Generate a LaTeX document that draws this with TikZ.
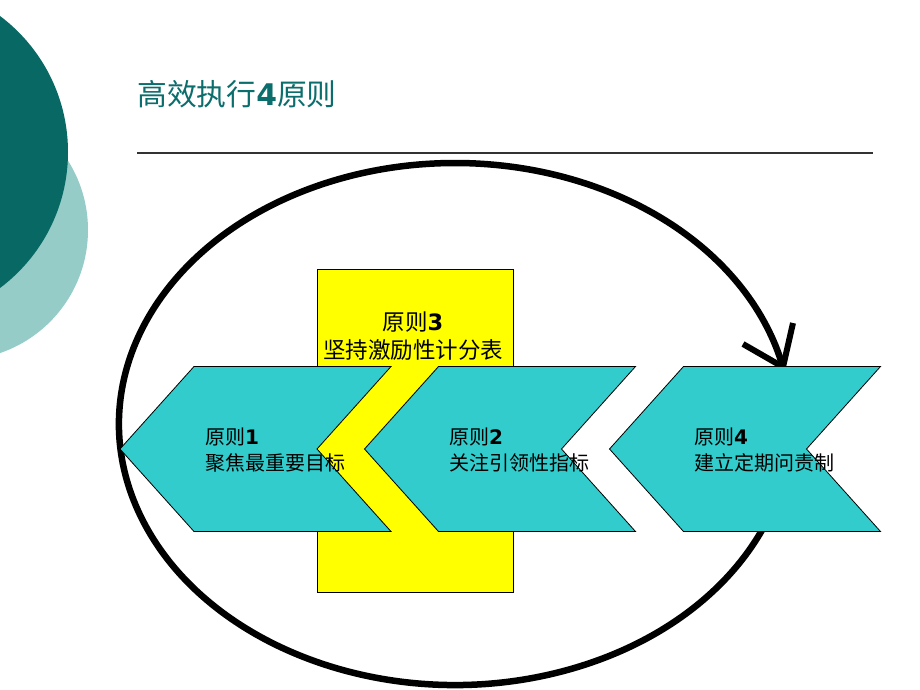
\documentclass[tikz,border=0pt]{standalone}
\usepackage{fontspec}
\newfontfamily\cjk{Noto Sans CJK SC}
\newfontfamily\latb{DejaVu Sans}
\definecolor{darkteal}{RGB}{8,104,100}
\definecolor{lightteal}{RGB}{150,204,200}
\definecolor{chevfill}{RGB}{51,204,204}
\definecolor{titlecol}{RGB}{12,110,108}
\definecolor{boxyellow}{RGB}{255,255,0}
\newcommand{\numb}[1]{{\latb\bfseries #1}}
\tikzset{
  chevron/.style={fill=chevfill, draw=black, line width=0.8pt, line join=miter},
  ybox/.style={fill=boxyellow, draw=black, line width=0.8pt},
  loopline/.style={line width=6.5pt, draw=black},
  barb/.style={line width=6pt, draw=black, line cap=butt, line join=miter},
  chevtext/.style={anchor=west, align=left, inner sep=0pt, font=\cjk\fontsize{20}{26}\selectfont},
}
\begin{document}
\begin{tikzpicture}[x=1pt,y=-1pt]
\useasboundingbox (0,0) rectangle (920,690);
\fill[white] (0,0) rectangle (920,690);
% background circles
\begin{scope}
\clip (0,0) rectangle (920,690);
\fill[lightteal] (-42,230) circle (130);
\fill[darkteal] (-102,152) circle (170);
\end{scope}
% title
\node[anchor=west, inner sep=0pt, text=titlecol, font=\cjk\fontsize{29.8}{32}\selectfont] (title) at (137,94) {高效执行{\latb\bfseries 4}原则};
\draw[line width=1.2pt, draw=black!80] (137,153) -- (873,153);
% big loop
\coordinate (tip) at (783,367);
\draw[loopline] (455,424) ++(-20:336 and 261) arc[start angle=20, end angle=-347.4, x radius=336, y radius=-261];
\draw[barb] (743,344) -- (tip) -- (793,323);
% yellow box
\node[ybox, minimum width=196pt, minimum height=323pt, inner sep=0pt, anchor=north west] (ybox) at (317,269) {};
\node[align=center, inner sep=0pt, font=\cjk\fontsize{22.5}{28}\selectfont] (p3) at (413,336) {原则\numb{3}\\坚持激励性计分表};
% chevrons
\foreach \x/\n in {194/c1, 438.5/c2, 683.5/c4}{
  \path[chevron] (\x,366.5) coordinate (\n-tl) -- ++(197,0) -- ++(-74,82.5) -- ++(74,82.5) -- ++(-197,0) -- ++(-74,-82.5) -- cycle;
}
\node[chevtext] (p1) at (205,450) {原则\numb{1}\\聚焦最重要目标};
\node[chevtext] (p2) at (449,450) {原则\numb{2}\\关注引领性指标};
\node[chevtext] (p4) at (694,450) {原则\numb{4}\\建立定期问责制};
\end{tikzpicture}
\end{document}
